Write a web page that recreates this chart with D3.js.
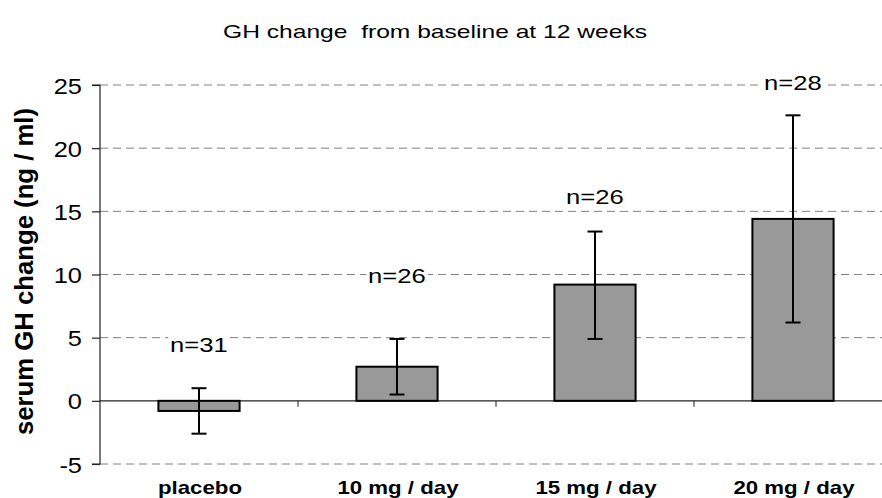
<!DOCTYPE html>
<html>
<head>
<meta charset="utf-8">
<script src="https://cdn.jsdelivr.net/npm/d3@7"></script>
<style>
  html, body { margin: 0; padding: 0; background: #fff; }
  svg { display: block; font-family: "Liberation Sans", Arial, sans-serif; }
</style>
</head>
<body>
<svg id="chart" width="882" height="498"></svg>
<script>
// ---- data ----
const categories = ["placebo", "10 mg / day", "15 mg / day", "20 mg / day"];
const means      = [-0.8, 2.7, 9.2, 14.4];
const errLow     = [-2.6, 0.5, 4.9, 6.2];
const errHigh    = [1.0, 4.9, 13.4, 22.6];
const nLabels    = ["n=31", "n=26", "n=26", "n=28"];
const nLabelAt   = [3.9, 9.3, 15.6, 24.6];   // value-axis position of label baseline
const yTicks     = [-5, 0, 5, 10, 15, 20, 25];
const title      = "GH change  from baseline at 12 weeks";
const yTitle     = "serum GH change (ng / ml)";

// ---- layout ----
const svg = d3.select("#chart");
const plotLeft = 100, plotRight = 892, plotTop = 85, plotBottom = 464;

const y = d3.scaleLinear().domain([-5, 25]).range([plotBottom, plotTop]);
const xCat = d3.scaleBand().domain(categories).range([plotLeft, plotRight]).padding(0);
const xBar = d3.scaleBand().domain(categories).range([plotLeft, plotRight])
  .paddingInner(0.59).paddingOuter(0.295);

function stretch(sel, f) {
  sel.each(function() {
    const len = this.getComputedTextLength();
    d3.select(this).attr("textLength", len * f).attr("lengthAdjust", "spacingAndGlyphs");
  });
}

// gridlines
svg.append("g").selectAll("line")
  .data(yTicks.filter(d => d !== 0))
  .join("line")
  .attr("x1", plotLeft).attr("x2", 882)
  .attr("y1", d => y(d)).attr("y2", d => y(d))
  .attr("stroke", "#808080").attr("stroke-width", 1)
  .attr("stroke-dasharray", "8,5");

// y axis
const yAxis = d3.axisLeft(y).tickValues(yTicks).tickSize(8).tickPadding(10).tickFormat(d => String(d));
const gy = svg.append("g").attr("transform", `translate(${plotLeft},0)`).call(yAxis);
gy.select(".domain").attr("stroke", "#222").attr("stroke-width", 1.2).attr("d", `M-8,${plotBottom}H0V${plotTop}H-8`);
gy.selectAll(".tick line").attr("stroke", "#222").attr("stroke-width", 1.2);
gy.selectAll(".tick text").attr("font-size", 22.5).attr("fill", "#000")
  .attr("font-family", "Liberation Sans, Arial, sans-serif").attr("dy", "0.36em");
stretch(gy.selectAll(".tick text"), 1.13);

// x axis at zero
svg.append("line").attr("x1", plotLeft).attr("x2", 882)
  .attr("y1", y(0)).attr("y2", y(0)).attr("stroke", "#222").attr("stroke-width", 1.2);
svg.append("g").selectAll("line")
  .data(categories.slice(1))
  .join("line")
  .attr("x1", d => xCat(d)).attr("x2", d => xCat(d))
  .attr("y1", y(0)).attr("y2", y(0) + 6)
  .attr("stroke", "#444").attr("stroke-width", 1.2);

// bars
svg.append("g").selectAll("rect")
  .data(categories)
  .join("rect")
  .attr("x", d => xBar(d))
  .attr("width", xBar.bandwidth())
  .attr("y", (d, i) => Math.min(y(means[i]), y(0)))
  .attr("height", (d, i) => Math.abs(y(means[i]) - y(0)))
  .attr("fill", "#999999").attr("stroke", "#000").attr("stroke-width", 2);

// error bars
const cx = d => xBar(d) + xBar.bandwidth() / 2;
const eb = svg.append("g").attr("stroke", "#000").attr("stroke-width", 2);
categories.forEach((c, i) => {
  eb.append("line").attr("x1", cx(c)).attr("x2", cx(c)).attr("y1", y(errLow[i])).attr("y2", y(errHigh[i]));
  eb.append("line").attr("x1", cx(c) - 7.5).attr("x2", cx(c) + 7.5).attr("y1", y(errLow[i])).attr("y2", y(errLow[i]));
  eb.append("line").attr("x1", cx(c) - 7.5).attr("x2", cx(c) + 7.5).attr("y1", y(errHigh[i])).attr("y2", y(errHigh[i]));
});

// n labels with white background
const nl = svg.append("g");
categories.forEach((c, i) => {
  const g = nl.append("g");
  const t = g.append("text").attr("x", cx(c)).attr("y", y(nLabelAt[i]))
    .attr("text-anchor", "middle").attr("font-size", 21).attr("fill", "#000").text(nLabels[i]);
  stretch(t, 1.22);
  const bb = t.node().getBBox();
  g.insert("rect", "text").attr("x", bb.x - 2).attr("y", bb.y).attr("width", bb.width + 4)
    .attr("height", bb.height).attr("fill", "#fff");
});

// x category labels
const xl = svg.append("g").selectAll("text")
  .data(categories)
  .join("text")
  .attr("x", d => cx(d) + 1).attr("y", 494)
  .attr("text-anchor", "middle").attr("font-size", 19).attr("font-weight", "bold")
  .attr("fill", "#000").text(d => d);
stretch(xl, 1.17);

// title
const tt = svg.append("text").attr("x", 435).attr("y", 38)
  .attr("text-anchor", "middle").attr("font-size", 19).attr("fill", "#000")
  .style("white-space", "pre").attr("xml:space", "preserve").text(title);
tt.attr("textLength", 424).attr("lengthAdjust", "spacingAndGlyphs");

// y axis title
const yt = svg.append("text")
  .attr("transform", `translate(33,${(108 + 435) / 2}) rotate(-90)`)
  .attr("text-anchor", "middle").attr("font-size", 25).attr("font-weight", "bold")
  .attr("fill", "#000").text(yTitle);
yt.attr("textLength", 327).attr("lengthAdjust", "spacingAndGlyphs");
</script>
</body>
</html>
